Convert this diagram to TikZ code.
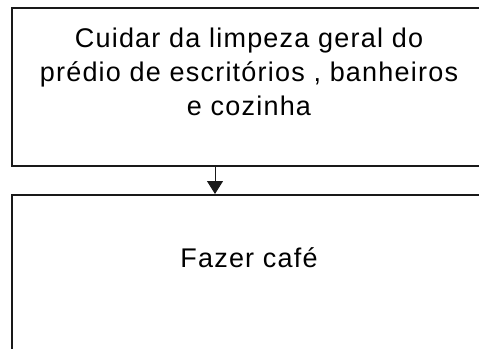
\documentclass[tikz,border=0pt]{standalone}
\usepackage{fontspec}
\setmainfont{Liberation Sans}
\usetikzlibrary{arrows.meta}
\tikzset{
  boxstyle/.style={draw=black!90, line width=2pt, rectangle, inner sep=0pt, anchor=north west},
  labelstyle/.style={align=center, inner sep=0pt, font=\fontsize{27}{34}\selectfont\addfontfeature{LetterSpace=4.5}},
  linkstyle/.style={draw=black!90, line width=1pt, -{Triangle[length=13pt,width=16pt]}}
}
\begin{document}
\begin{tikzpicture}[x=1pt,y=-1pt]
\useasboundingbox (0,0) rectangle (479,348);
\clip (0,0) rectangle (479,348);
\node[boxstyle, minimum width=476pt, minimum height=158pt] (top) at (11,7) {};
\node[boxstyle, minimum width=476pt, minimum height=170pt] (bot) at (11,194) {};
\node[labelstyle, anchor=base] (toptext) at (249,115) {Cuidar da limpeza geral do\\prédio de escritórios , banheiros\\e cozinha};
\node[labelstyle, anchor=base] (bottext) at (249,267) {Fazer café};
\coordinate (ax) at (215,0);
\draw[linkstyle] (top.south -| ax) -- (bot.north -| ax);
\end{tikzpicture}
\end{document}
